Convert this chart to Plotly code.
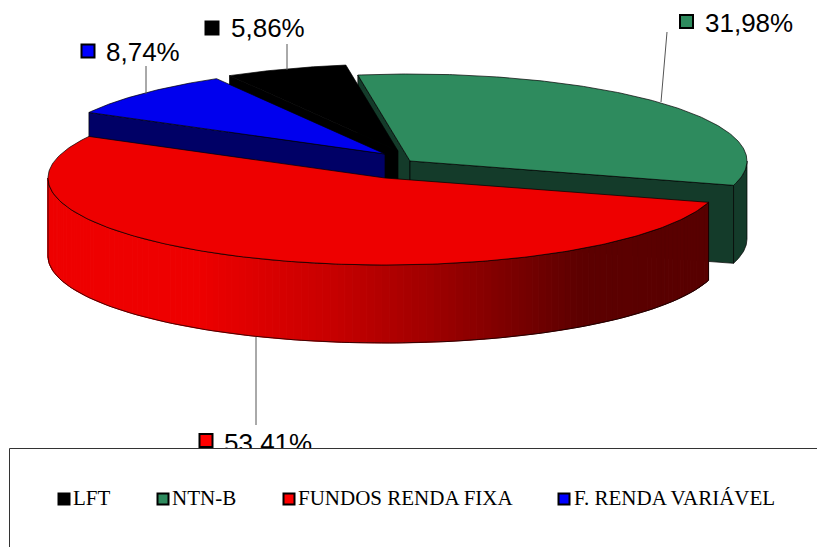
import numpy as np
import plotly.graph_objects as go

# ---- data ----
categories = ["LFT", "NTN-B", "FUNDOS RENDA FIXA", "F. RENDA VARIÁVEL"]
values = [5.86, 31.98, 53.41, 8.74]
value_labels = ["5,86%", "31,98%", "53,41%", "8,74%"]

# ---- style / layout ----
W, H = 817, 547
top_colors = ["#000000", "#2E8B5E", "#EE0000", "#0000EE"]
side_colors = ["#000000", "#143B2A", None, "#000066"]
legend_colors = ["#000000", "#2E8B5E", "#FF0000", "#0000FF"]
centers = [(398, 151), (410, 161), (385, 178), (385, 154)]   # exploded slice centres
RX, RY, DEPTH = 337, 87, 78
START = 120.0
label_marker = [(212, 28), (686.5, 21.5), (206, 440.5), (88, 51)]
label_text_x = [231, 705, 224, 106]
label_text_y = [30, 25, 445, 54]
leaders = [((287, 70), (287, 44)), ((661, 102), (667, 32)),
           ((256, 337), (256, 425)), ((146, 94), (146, 66))]
legend_marker_x = [64, 163, 289, 564]
legend_text_x = [73, 172, 298, 574]
LEGEND_Y = 500
shade_x = [197, 330, 430, 530, 580, 708]
shade_r = [238, 200, 160, 115, 93, 88]
FILE_SANS = "Liberation Sans, Arial, sans-serif"
FILE_SERIF = "Liberation Serif, Times New Roman, serif"

fig = go.Figure()


def poly(xs, ys, fill, line="#000000", width=0.7):
    fig.add_trace(go.Scatter(
        x=list(xs), y=list(ys), mode="lines", fill="toself" if fill else "none",
        fillcolor=fill, line=dict(color=line, width=width),
        hoverinfo="skip", showlegend=False))


def arc(c, a0, a1, n=120, dy=0):
    t = np.radians(np.linspace(a0, a1, n))
    return c[0] + RX * np.cos(t), c[1] - RY * np.sin(t) + dy


# slice angles from the values (clockwise)
ends = START - np.cumsum(np.array(values) / sum(values) * 360)
starts = np.r_[START, ends[:-1]]


def cut_face(i, ang, color):
    cx, cy = centers[i]
    ex, ey = arc(centers[i], ang, ang, 1)
    poly([cx, ex[0], ex[0], cx, cx], [cy, ey[0], ey[0] + DEPTH, cy + DEPTH, cy], color)


def rim(i, a0, a1, color):
    x, y = arc(centers[i], a0, a1)
    poly(np.r_[x, x[::-1], x[0]], np.r_[y, y[::-1] + DEPTH, y[0]], color)


def top(i):
    x, y = arc(centers[i], starts[i], ends[i], 200)
    poly(np.r_[centers[i][0], x, centers[i][0]], np.r_[centers[i][1], y, centers[i][1]], top_colors[i])


# NTN-B (rear right)
cut_face(1, starts[1], side_colors[1])
cut_face(1, ends[1], side_colors[1])
rim(1, ends[1], 0, side_colors[1])
top(1)
# LFT
cut_face(0, starts[0], side_colors[0])
top(0)
# F. RENDA VARIAVEL
cut_face(3, starts[3], side_colors[3])
top(3)

# FUNDOS RENDA FIXA: shaded rim drawn in thin strips
edges = np.linspace(starts[2], -180, 131)
for a0, a1 in zip(edges[:-1], edges[1:]):
    x, y = arc(centers[2], a0, a1, 4)
    col = f"rgb({int(np.interp(x.mean(), shade_x, shade_r))},0,0)"
    poly(np.r_[x, x[::-1], x[0]], np.r_[y, y[::-1] + DEPTH, y[0]], col, line=col, width=1)
x, y = arc(centers[2], starts[2], -180)
poly(np.r_[x, x[::-1], x[0]], np.r_[y, y[::-1] + DEPTH, y[0]], None)
top(2)

# leader lines
for (p, q) in leaders:
    poly([p[0], q[0]], [p[1], q[1]], None, line="#555555", width=1)

# value labels
for i, lab in enumerate(value_labels):
    fig.add_trace(go.Scatter(
        x=[label_marker[i][0]], y=[label_marker[i][1]], mode="markers",
        marker=dict(symbol="square", size=13, color=legend_colors[i],
                    line=dict(color="#000000", width=2)),
        hoverinfo="skip", showlegend=False))
    fig.add_trace(go.Scatter(
        x=[label_text_x[i]], y=[label_text_y[i]], mode="text", text=[lab],
        textposition="middle right", textfont=dict(family=FILE_SANS, size=26, color="#000000"),
        hoverinfo="skip", showlegend=False))

# legend box, drawn over the clipped label
poly([9.5, 830, 830, 9.5, 9.5], [448.5, 448.5, 560, 560, 448.5], "#FFFFFF", line="#333333", width=1)

# legend entries
for i, name in enumerate(categories):
    fig.add_trace(go.Scatter(
        x=[legend_marker_x[i]], y=[LEGEND_Y - 1], mode="markers",
        marker=dict(symbol="square", size=11, color=legend_colors[i],
                    line=dict(color="#000000", width=2)),
        name=name, hoverinfo="skip", showlegend=False))
    fig.add_trace(go.Scatter(
        x=[legend_text_x[i]], y=[LEGEND_Y], mode="text", text=[name],
        textposition="middle right",
        textfont=dict(family=FILE_SERIF, size=21, color="#000000"),
        name=name, hoverinfo="skip", showlegend=False))

fig.update_layout(
    width=W, height=H, autosize=False, margin=dict(l=0, r=0, t=0, b=0),
    paper_bgcolor="#FFFFFF", plot_bgcolor="#FFFFFF", showlegend=False,
    xaxis=dict(range=[0, W], visible=False, fixedrange=True),
    yaxis=dict(range=[H, 0], visible=False, fixedrange=True),
)
fig.write_html("out.html", config=dict(displayModeBar=False),
               post_script="document.body.style.margin='0';")
